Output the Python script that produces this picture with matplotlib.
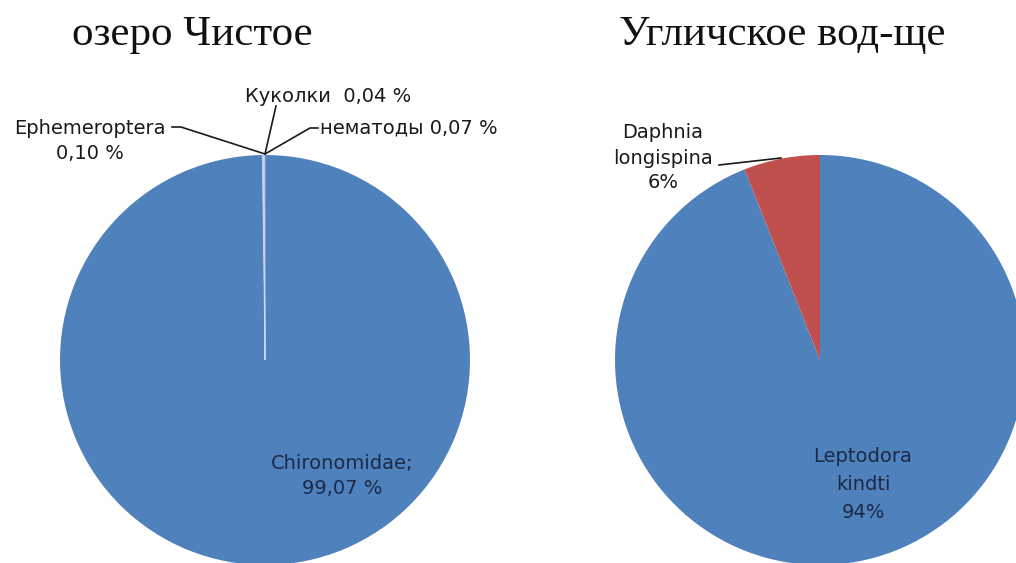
import matplotlib
matplotlib.use("Agg")
import matplotlib.pyplot as plt

# ---- data ----
left_title = "озеро Чистое"
left_labels = ["Chironomidae", "Ephemeroptera", "Куколки", "нематоды"]
left_values = [99.07, 0.10, 0.04, 0.07]
left_texts = ["Chironomidae;\n99,07 %", "Ephemeroptera\n0,10 %", "Куколки  0,04 %", "нематоды 0,07 %"]

right_title = "Угличское вод-ще"
right_labels = ["Leptodora kindti", "Daphnia longispina"]
right_values = [94, 6]
right_texts = ["Leptodora\nkindti\n94%", "Daphnia\nlongispina\n6%"]

W, H = 1016, 563
BLUE = "#4F81BD"
RED = "#C0504D"
LAV = "#9a93c8"
INK = "#1c2a48"
DARK = "#1a1a1a"

fig = plt.figure(figsize=(W / 100, H / 100), dpi=100)
fig.patch.set_facecolor("white")

R = 205  # pie radius in px


def make_ax(cx, cy):
    ax = fig.add_axes([(cx - R) / W, (H - (cy + R)) / H, 2 * R / W, 2 * R / H])
    ax.set_xlim(-1, 1)
    ax.set_ylim(-1, 1)
    ax.axis("off")
    return ax


def d(cx, cy, x, y):
    return ((x - cx) / R, (cy - y) / R)


label_font = dict(family=["DejaVu Sans"], fontsize=14)

# ---- left pie ----
lcx, lcy = 265, 360
axl = make_ax(lcx, lcy)
wedges, _ = axl.pie(left_values, startangle=90, counterclock=False, radius=1,
                    colors=[BLUE, LAV, LAV, LAV],
                    wedgeprops=dict(edgecolor=(0.85, 0.87, 0.97, 0.6), linewidth=0.7))
wedges[0].set_linewidth(0)
axl.set_xlim(-1, 1)
axl.set_ylim(-1, 1)

tx, ty = d(lcx, lcy, 342, 476)
axl.text(tx, ty, left_texts[0], ha="center", va="center", color=INK,
         linespacing=1.45, **label_font)
# Ephemeroptera
tx, ty = d(lcx, lcy, 90, 141)
axl.text(tx, ty, left_texts[1], ha="center", va="center", color=DARK,
         linespacing=1.45, **label_font)
# Куколки
tx, ty = d(lcx, lcy, 328, 96)
axl.text(tx, ty, left_texts[2], ha="center", va="center", color=DARK, **label_font)
# нематоды
tx, ty = d(lcx, lcy, 320, 128)
axl.text(tx, ty, left_texts[3], ha="left", va="center", color=DARK, **label_font)

tip = d(lcx, lcy, 265, 154)
for pts in ([(172, 127), (181, 127), None], [(276, 106), None], [(318, 128), (310, 128), None]):
    xs, ys = [], []
    for p in pts:
        q = tip if p is None else d(lcx, lcy, *p)
        xs.append(q[0]); ys.append(q[1])
    axl.plot(xs, ys, color=DARK, lw=1.2, clip_on=False)

# ---- right pie ----
rcx, rcy = 820, 360
axr = make_ax(rcx, rcy)
axr.pie(right_values, startangle=90, counterclock=False, radius=1,
        colors=[BLUE, RED], wedgeprops=dict(linewidth=0))
axr.set_xlim(-1, 1)
axr.set_ylim(-1, 1)

tx, ty = d(rcx, rcy, 863, 484)
axr.text(tx, ty, right_texts[0], ha="center", va="center", color=INK,
         linespacing=1.6, **label_font)
tx, ty = d(rcx, rcy, 663, 158)
axr.text(tx, ty, right_texts[1], ha="center", va="center", color=DARK,
         linespacing=1.4, **label_font)
p1 = d(rcx, rcy, 719, 165)
p2 = d(rcx, rcy, 781, 158)
axr.plot([p1[0], p2[0]], [p1[1], p2[1]], color=DARK, lw=1.2, clip_on=False)

# ---- titles ----
title_font = dict(family=["Liberation Serif", "DejaVu Serif"], fontsize=31)
fig.text(192 / W, 1 - 45 / H, left_title, ha="center", va="baseline", color="#111111", **title_font)
fig.text(782 / W, 1 - 45 / H, right_title, ha="center", va="baseline", color="#111111", **title_font)

fig.savefig("out.png", dpi=100, facecolor="white")
